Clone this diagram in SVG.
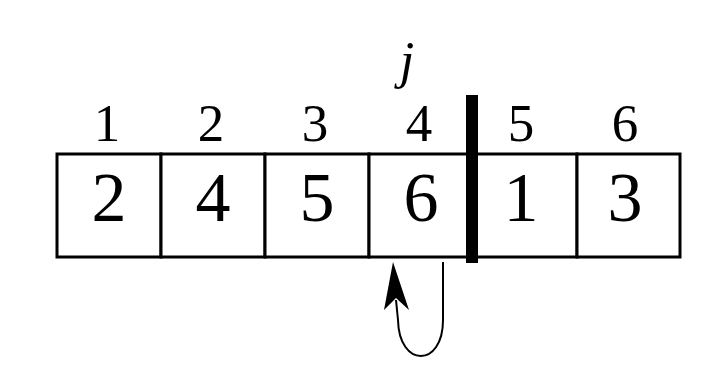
<svg xmlns="http://www.w3.org/2000/svg" width="728" height="382" viewBox="0 0 728 382">
<style>
.cell{fill:#fff;stroke:#000;stroke-width:3}
.idx{font-family:"Liberation Serif",serif;font-size:53px;text-anchor:middle;fill:#000}
.val{font-family:"Liberation Serif",serif;font-size:70px;text-anchor:middle;fill:#000}
</style>
<rect width="728" height="382" fill="#fff"/>
<g id="cell1"><rect class="cell" x="57" y="154" width="104" height="103"/><text class="idx" x="107" y="141">1</text><text class="val" x="109" y="221">2</text></g>
<g id="cell2"><rect class="cell" x="161" y="154" width="104" height="103"/><text class="idx" x="211" y="141">2</text><text class="val" x="213" y="221">4</text></g>
<g id="cell3"><rect class="cell" x="265" y="154" width="104" height="103"/><text class="idx" x="315" y="141">3</text><text class="val" x="317" y="221">5</text></g>
<g id="cell4"><rect class="cell" x="369" y="154" width="104" height="103"/><text class="idx" x="419" y="141">4</text><text class="val" x="421" y="221">6</text></g>
<g id="cell5"><rect class="cell" x="473" y="154" width="104" height="103"/><text class="idx" x="521" y="141">5</text><text class="val" x="521" y="221">1</text></g>
<g id="cell6"><rect class="cell" x="577" y="154" width="103" height="103"/><text class="idx" x="625" y="141">6</text><text class="val" x="625" y="221">3</text></g>
<g id="jlabel"><text x="407" y="78" font-family="Liberation Serif,serif" font-style="italic" font-size="52" text-anchor="middle">j</text></g>
<g id="divider"><rect x="466" y="95" width="12" height="168" fill="#000"/></g>
<g id="connectors">
<path d="M443 262 L443 320 C443 368 399 368 398 320 L396 300" fill="none" stroke="#000" stroke-width="2"/>
<polygon points="393,262 409,310 396,298 384,310" fill="#000"/>
</g>
</svg>
